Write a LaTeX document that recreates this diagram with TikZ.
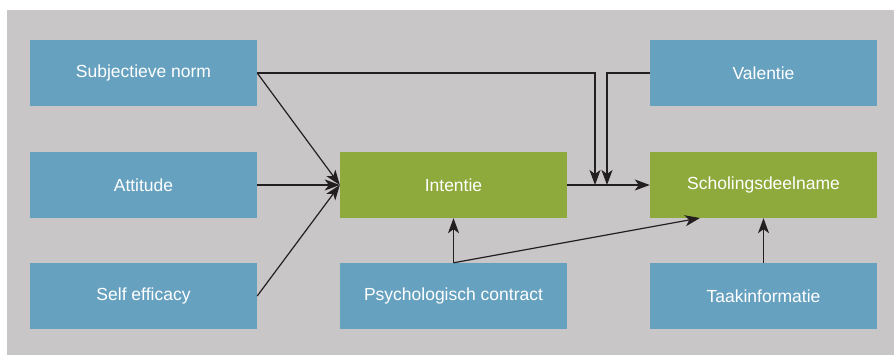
\documentclass[tikz,border=0pt]{standalone}
\usepackage{fontspec}
\setmainfont{Liberation Sans}
\usetikzlibrary{arrows.meta,calc}
\definecolor{bggray}{HTML}{C8C6C7}
\definecolor{boxblue}{HTML}{66A1C0}
\definecolor{boxgreen}{HTML}{8FAA3C}
\definecolor{linedark}{HTML}{231F20}
\begin{document}
\begin{tikzpicture}[x=1pt,y=-1pt,
  bbox/.style={rectangle,fill=boxblue,minimum width=227pt,minimum height=66pt,inner sep=0pt,text=white,font=\fontsize{17.5}{20}\selectfont},
  gbox/.style={bbox,fill=boxgreen},
  conn/.style={draw=linedark,line width=1.2pt,-{Stealth[length=15pt,width=11pt,inset=4pt]}},
  plain/.style={draw=linedark,line width=1.2pt}]
\useasboundingbox (0,0) rectangle (894,355);
\fill[bggray] (7,10) rectangle (894,355);
\node[bbox] (sn) at (143.5,73) {Subjectieve norm};
\node[bbox] (att) at (143.5,185) {Attitude};
\node[bbox] (se) at (143.5,296) {Self efficacy};
\node[gbox] (int) at (453.5,185) {Intentie};
\node[bbox] (pc) at (453.5,296) {Psychologisch contract};
\node[bbox] (val) at (763.5,73) {Valentie};
\node[gbox] (sch) at (763.5,185) {Scholingsdeelname};
\node[bbox] (tk) at (763.5,296) {Taakinformatie};
\coordinate (k1) at (595,73);
\coordinate (e1) at (595,185);
\coordinate (k2) at (607,73);
\coordinate (e2) at (607,185);
\coordinate (pcs) at (700,218);
\draw[conn] (sn.east) -- (int.west);
\draw[conn] (att.east) -- (int.west);
\draw[conn] (se.east) -- (int.west);
\draw[conn] (int.east) -- (sch.west);
\draw[conn] (sn.east) -- (k1) -- (e1);
\draw[conn] (val.west) -- (k2) -- (e2);
\draw[conn] (pc.north) -- (int.south);
\draw[conn] (pc.north) -- (pcs);
\draw[conn] (tk.north) -- (sch.south);
\end{tikzpicture}
\end{document}
